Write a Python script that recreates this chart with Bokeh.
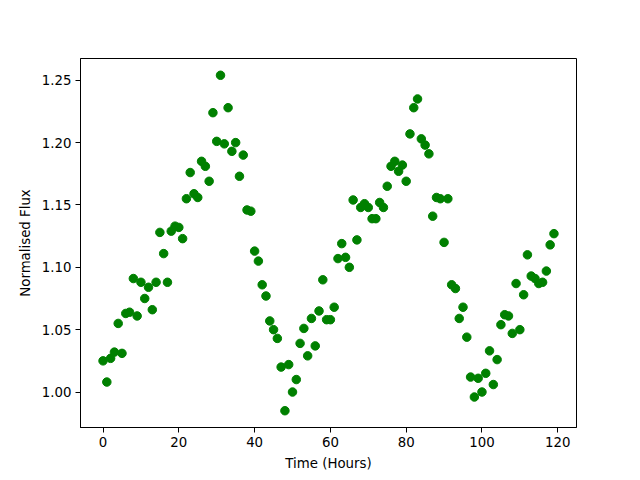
from bokeh.plotting import figure
from bokeh.models import FixedTicker, Range1d, NumeralTickFormatter
from bokeh.embed import file_html
from bokeh.resources import INLINE

hours = list(range(120))
flux = [
    1.025, 1.008, 1.027, 1.032, 1.055, 1.031, 1.063, 1.064, 1.091, 1.061,
    1.088, 1.075, 1.084, 1.066, 1.088, 1.128, 1.111, 1.088, 1.129, 1.133,
    1.132, 1.123, 1.155, 1.176, 1.159, 1.156, 1.185, 1.181, 1.169, 1.224,
    1.201, 1.254, 1.199, 1.228, 1.193, 1.200, 1.173, 1.190, 1.146, 1.145,
    1.113, 1.105, 1.086, 1.077, 1.057, 1.050, 1.043, 1.020, 0.985, 1.022,
    1.000, 1.010, 1.039, 1.051, 1.029, 1.059, 1.037, 1.065, 1.090, 1.058,
    1.058, 1.068, 1.107, 1.119, 1.108, 1.100, 1.154, 1.122, 1.148, 1.151,
    1.148, 1.139, 1.139, 1.152, 1.148, 1.165, 1.181, 1.185, 1.177, 1.182,
    1.169, 1.207, 1.228, 1.235, 1.203, 1.198, 1.191, 1.141, 1.156, 1.155,
    1.120, 1.155, 1.086, 1.083, 1.059, 1.068, 1.044, 1.012, 0.996, 1.011,
    1.000, 1.015, 1.033, 1.006, 1.026, 1.054, 1.062, 1.061, 1.047, 1.087,
    1.050, 1.078, 1.110, 1.093, 1.091, 1.087, 1.088, 1.097, 1.118, 1.127,
]
x_ticks = [0, 20, 40, 60, 80, 100, 120]
y_ticks = [1.00, 1.05, 1.10, 1.15, 1.20, 1.25]

xpad = (max(hours) - min(hours)) * 0.05
ypad = (max(flux) - min(flux)) * 0.05

p = figure(
    output_backend="svg", toolbar_location=None,
    frame_width=496, frame_height=369,
    min_border_left=80, min_border_right=64, min_border_top=58, min_border_bottom=53,
    x_range=Range1d(min(hours) - xpad, max(hours) + xpad),
    y_range=Range1d(min(flux) - ypad, max(flux) + ypad),
)
p.scatter(hours, flux, size=8.5, color="#008000")

p.xgrid.visible = False
p.ygrid.visible = False
p.outline_line_color = "black"
p.outline_line_width = 1
p.outline_line_alpha = 1

p.xaxis.ticker = FixedTicker(ticks=x_ticks)
p.yaxis.ticker = FixedTicker(ticks=y_ticks)
p.yaxis.formatter = NumeralTickFormatter(format="0.00")
p.xaxis.axis_label = "Time (Hours)"
p.yaxis.axis_label = "Normalised Flux"

for ax in (p.xaxis[0], p.yaxis[0]):
    ax.major_label_text_font = "DejaVu Sans"
    ax.major_label_text_font_size = "10pt"
    ax.major_label_text_color = "black"
    ax.axis_label_text_font = "DejaVu Sans"
    ax.axis_label_text_font_size = "10pt"
    ax.axis_label_text_font_style = "normal"
    ax.axis_label_text_color = "black"
    ax.major_tick_out = 5
    ax.major_tick_in = 0
    ax.minor_tick_out = 0
    ax.minor_tick_in = 0
    ax.major_tick_line_color = "black"
    ax.axis_line_color = "black"
    ax.major_label_standoff = 4
    ax.axis_label_standoff = 6

open("out.html", "w").write(file_html(p, INLINE))
